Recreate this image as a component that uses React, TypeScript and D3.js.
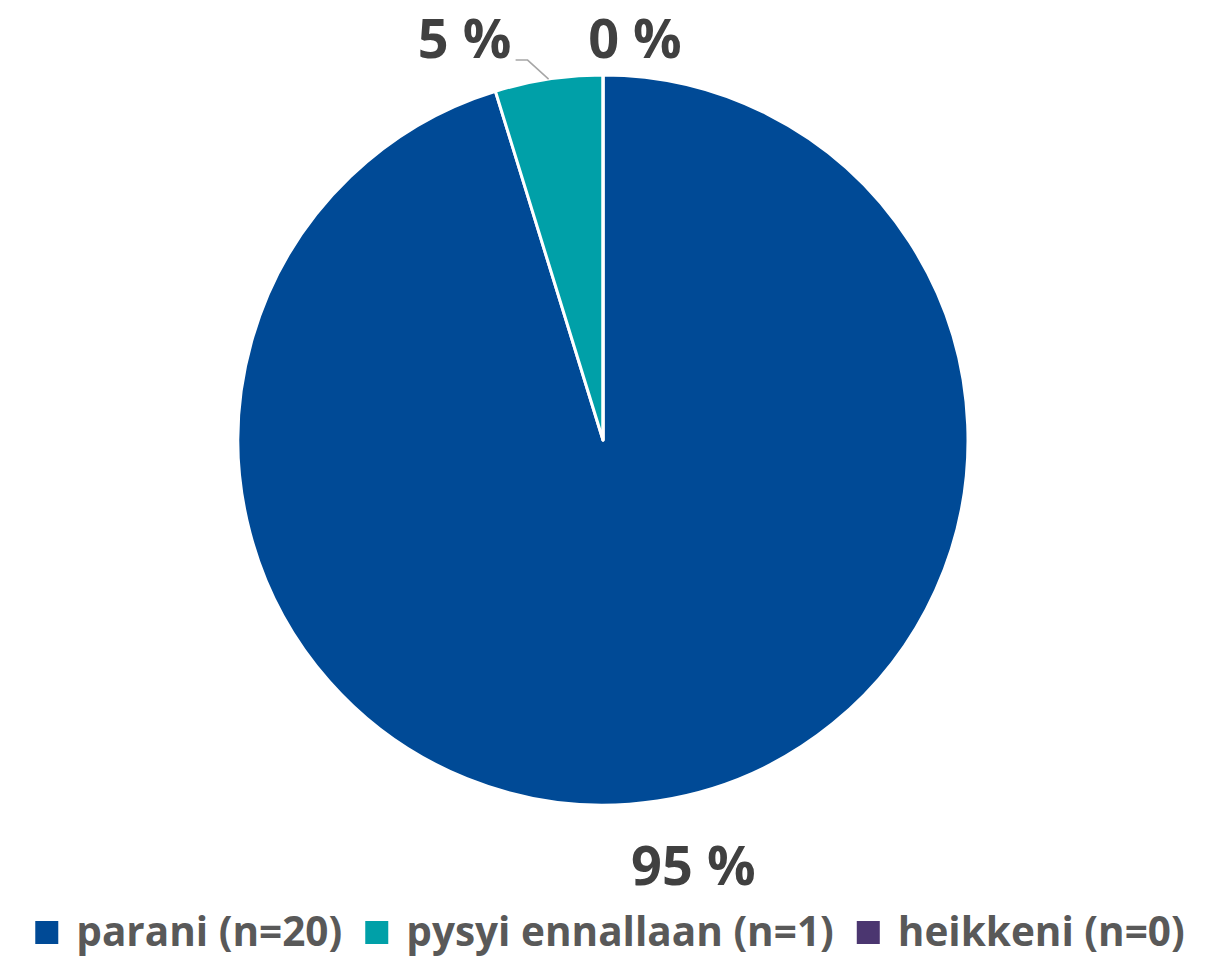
import React, { useRef, useEffect } from "react"
import * as d3 from "d3"

const categories = ["parani (n=20)", "pysyi ennallaan (n=1)", "heikkeni (n=0)"]
const counts = [20, 1, 0]
const percentLabels = ["95 %", "5 %", "0 %"]
const colors = ["#004a96", "#00a0a8", "#4b3670"]

const W = 1218
const H = 958

export default function App() {
    const ref = useRef<SVGSVGElement>(null)

    useEffect(() => {
        const svg = d3.select(ref.current)
        svg.selectAll("*").remove()

        const cx = 603
        const cy = 440
        const r = 365
        const font = "'Open Sans', 'Noto Sans', sans-serif"

        const pie = d3
            .pie<number>()
            .sort(null)
            .value((d) => d)
        const arcs = pie(counts)
        const arc = d3.arc<d3.PieArcDatum<number>>().innerRadius(0).outerRadius(r)

        const g = svg.append("g").attr("transform", `translate(${cx},${cy})`)

        g.selectAll("path")
            .data(arcs)
            .enter()
            .append("path")
            .attr("d", arc)
            .attr("fill", (d, i) => colors[i])
            .attr("stroke", "#fff")
            .attr("stroke-width", 3)
            .attr("stroke-linejoin", "round")

        // data labels
        const labelG = g.append("g")
        arcs.forEach((a, i) => {
            const mid = (a.startAngle + a.endAngle) / 2
            const dx = Math.sin(mid)
            const dy = -Math.cos(mid)
            let x = 0
            let y = 0
            if (i === 0) {
                // outside the big slice, below
                x = dx * (r + 60) + 27
                y = dy * (r + 60) + 25
            } else if (i === 1) {
                // leader line from the arc
                const p0: [number, number] = [dx * r, dy * r]
                const p1: [number, number] = [p0[0] - 21, p0[1] - 19]
                const p2: [number, number] = [p1[0] - 12, p1[1]]
                labelG
                    .append("path")
                    .attr("d", d3.line()([p0, p1, p2]))
                    .attr("fill", "none")
                    .attr("stroke", "#a6a6a6")
                    .attr("stroke-width", 1.5)
                x = p2[0] - 51
                y = p2[1] - 2
            } else {
                x = dx * r + 32
                y = dy * r - 17
            }
            labelG
                .append("text")
                .attr("x", x)
                .attr("y", y)
                .attr("text-anchor", "middle")
                .style("font-family", font)
                .style("font-weight", 700)
                .style("font-size", "54px")
                .attr("fill", "#404040")
                .text(percentLabels[i])
        })

        // legend, laid out from measured text widths
        const legendY = 946
        const sq = 23
        const gapText = 18
        const gapItem = 23
        const leg = svg.append("g")
        const items = categories.map((c, i) => {
            const it = leg.append("g")
            it.append("rect")
                .attr("y", legendY - 25)
                .attr("width", sq)
                .attr("height", sq)
                .attr("fill", colors[i])
            const t = it
                .append("text")
                .attr("x", sq + gapText)
                .attr("y", legendY)
                .style("font-family", font)
                .style("font-weight", 700)
                .style("font-size", "40.5px")
                .attr("fill", "#595959")
                .text(c)
            const w = (t.node() as SVGTextElement).getComputedTextLength()
            return { it, w: sq + gapText + w }
        })
        const total = d3.sum(items, (d) => d.w) + gapItem * (items.length - 1)
        let x0 = 610 - total / 2
        items.forEach((d) => {
            d.it.attr("transform", `translate(${x0},0)`)
            x0 += d.w + gapItem
        })
    }, [])

    return (
        <svg
            ref={ref}
            width={W}
            height={H}
            viewBox={`0 0 ${W} ${H}`}
            style={{ position: "absolute", left: 0, top: 0, background: "#fff" }}
        />
    )
}
